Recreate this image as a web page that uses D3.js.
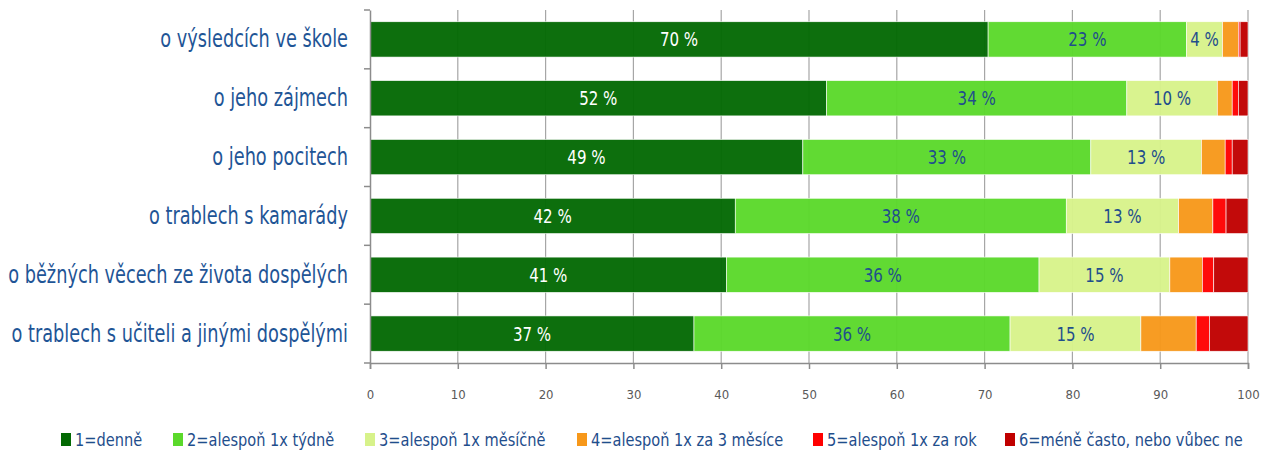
<!DOCTYPE html>
<html><head><meta charset="utf-8">
<script src="https://cdn.jsdelivr.net/npm/d3@7"></script>
<style>body{margin:0;background:#fff} text{font-family:"DejaVu Sans Condensed","DejaVu Sans",sans-serif}</style>
</head><body><svg id="c" width="1262" height="454"></svg>
<script>
const categories = ["o výsledcích ve škole","o jeho zájmech","o jeho pocitech","o trablech s kamarády","o běžných věcech ze života dospělých","o trablech s učiteli a jinými dospělými"];
const seriesNames = ["1=denně","2=alespoň 1x týdně","3=alespoň 1x měsíčně","4=alespoň 1x za 3 měsíce","5=alespoň 1x za rok","6=méně často, nebo vůbec ne"];
const seriesColors = ["#036903","#5bd92b","#d7f28a","#f7981a","#ff0000","#c00000"];
const s1 = [70.4,52.0,49.3,41.6,40.6,36.9];
const s2 = [22.6,34.2,32.8,37.7,35.6,36.0];
const s3 = [4.1,10.3,12.6,12.8,14.9,14.9];
const s4 = [1.8,1.7,2.7,3.9,3.7,6.3];
const s5 = [0.2,0.7,0.8,1.5,1.3,1.5];
const s6 = [0.9,1.1,1.8,2.5,3.9,4.4];
const labelledSeries = [0,1,2];
const xTicks = [0,10,20,30,40,50,60,70,80,90,100];

const series = [s1,s2,s3,s4,s5,s6];
const svg = d3.select("#c");
const x = d3.scaleLinear().domain([0,100]).range([370,1248]);
const y = d3.scaleBand().domain(categories).range([10,363]).paddingInner(0.4).paddingOuter(0.2);

// gridlines
svg.append("g").selectAll("line").data(xTicks.slice(1)).join("line")
  .attr("x1",d=>x(d)).attr("x2",d=>x(d)).attr("y1",10).attr("y2",363)
  .attr("stroke","#a6a6a6").attr("stroke-width",1.2);

const rows = categories.map((c,i)=>{const o={cat:c}; series.forEach((s,j)=>o["s"+j]=s[i]); return o;});
const stack = d3.stack().keys(series.map((s,j)=>"s"+j))(rows);

const g = svg.append("g");
stack.forEach((layer,j)=>{
  g.append("g").selectAll("rect").data(layer).join("rect")
    .attr("x",d=>x(d[0])).attr("width",d=>x(d[1])-x(d[0]))
    .attr("y",d=>y(d.data.cat)).attr("height",y.bandwidth())
    .attr("fill",seriesColors[j]).attr("fill-opacity",0.96)
    .attr("stroke","#ffffff").attr("stroke-width",0.6);
});
// value labels (horizontally condensed)
labelledSeries.forEach(j=>{
  g.append("g").selectAll("text").data(stack[j]).join("text")
    .attr("transform",d=>`translate(${(x(d[0])+x(d[1]))/2},${y(d.data.cat)+y.bandwidth()/2+7}) scale(0.88,1)`)
    .attr("text-anchor","middle").attr("font-size",19)
    .attr("fill",j===0?"#ffffff":"#1f4e8c")
    .text(d=>Math.round(d[1]-d[0])+" %");
});

// x axis
const xa = svg.append("g").attr("transform","translate(0,363)")
  .call(d3.axisBottom(x).tickValues(xTicks).tickSize(6).tickPadding(21));
xa.select(".domain").attr("stroke","#8c8c8c").attr("stroke-width",1.5);
xa.selectAll(".tick line").attr("stroke","#8c8c8c").attr("stroke-width",1.5);
xa.selectAll(".tick text").attr("font-size",13).attr("fill","#595959").style("font-family","'DejaVu Sans Condensed',sans-serif");

// y axis
const ya = svg.append("g").attr("transform","translate(370,0)")
  .call(d3.axisLeft(y).tickSize(0).tickFormat(""));
ya.select(".domain").attr("stroke","#8c8c8c").attr("stroke-width",1.5);
const bounds = categories.map(c=>y(c)-y.step()*y.paddingInner()/2).concat([363]);
ya.append("g").selectAll("line").data(bounds).join("line")
  .attr("x1",-6).attr("x2",0).attr("y1",d=>d).attr("y2",d=>d)
  .attr("stroke","#8c8c8c").attr("stroke-width",1.5);

// category labels, condensed so the longest spans ~340px like the reference
const cg = svg.append("g");
const ct = cg.selectAll("text").data(categories).join("text")
  .attr("x",0).attr("y",d=>y(d)+y.bandwidth()/2+8)
  .attr("text-anchor","end").attr("font-size",24).attr("fill","#1f5596")
  .text(d=>d);
const maxW = d3.max(ct.nodes(),n=>n.getComputedTextLength());
cg.attr("transform",`translate(348,0) scale(${340/maxW},1)`);

// legend
const legX = [61,173,365,577,813,1005];
const lg = svg.append("g");
seriesNames.forEach((n,j)=>{
  lg.append("rect").attr("x",legX[j]).attr("y",433).attr("width",10).attr("height",13).attr("fill",seriesColors[j]);
  lg.append("text").attr("transform",`translate(${legX[j]+14},446) scale(0.9,1)`)
    .attr("font-size",18).attr("fill","#1f4e8c").text(n);
});
</script></body></html>
